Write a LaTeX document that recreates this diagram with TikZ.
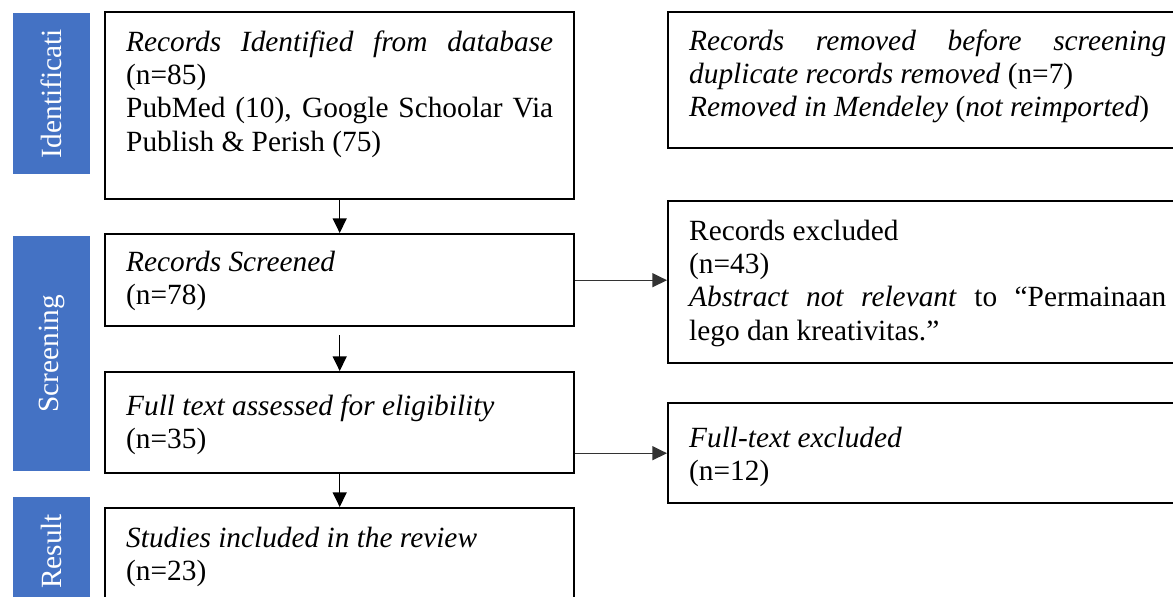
\documentclass[tikz,border=0pt]{standalone}
\usepackage{fontspec}
\setmainfont{Liberation Serif}
\usetikzlibrary{positioning, arrows.meta}
\usepackage{xcolor}
\definecolor{stageblue}{HTML}{4472C4}
\tolerance=9999
\hyphenpenalty=10000
\tikzstyle{arrow} = [line width=1pt, -{Triangle[length=11pt,width=10.5pt]}]
\tikzstyle{sidearrow} = [arrow, draw=black!80]
\tikzstyle{flowbox} = [rectangle, draw=black, line width=1.8pt, text width=320.25pt, align=justify, inner xsep=15.75pt, inner ysep=0pt, text height=29.25pt, font=\fontsize{22}{25}\selectfont]
\tikzstyle{sidebox} = [flowbox, text width=357.75pt]
\tikzstyle{stage} = [rectangle, fill=stageblue, text=white, minimum width=57.75pt, inner sep=0pt, font=\fontsize{22}{25}\selectfont]

\begin{document}
\begin{tikzpicture}
      \useasboundingbox (0,0) rectangle (879.75pt,-447pt);
      \clip (0,0) rectangle (879.75pt,-447pt);

      % main column
      \node (identified) [flowbox, text depth=111pt, anchor=north west] at (78pt,-8.25pt) {\textit{Records Identified from database}\linebreak (n=85)\\ PubMed (10), Google Schoolar Via\linebreak Publish \& Perish (75)};
      \node (screened) [flowbox, text height=27.75pt, text depth=41.25pt, below=24.45pt of identified] {\textit{Records Screened}\\ (n=78)};
      \node (fulltext) [flowbox, text height=32.25pt, text depth=43.5pt, below=32.7pt of screened] {\textit{Full text assessed for eligibility}\\ (n=35)};
      \node (included) [flowbox, text depth=48pt, below=24.45pt of fulltext] {\textit{Studies included in the review}\\ (n=23)};

      % side column
      \node (removed) [sidebox, text height=28.5pt, text depth=73.5pt, right=68.7pt of identified.north east, anchor=north west] {\textit{Records removed before screening}\linebreak \textit{duplicate records removed} (n=7)\\ \textit{Removed in Mendeley} (\textit{not reimported})};
      \node (excluded) [sidebox, text depth=92.25pt, below=37.95pt of removed] {Records excluded\\ (n=43)\\ \textit{Abstract not relevant} to “Permainaan\linebreak lego dan kreativitas.”};
      \node (ftexcluded) [sidebox, text height=33pt, text depth=42pt, below=28.2pt of excluded] {\textit{Full-text excluded}\\ (n=12)};

      % stage labels
      \node (stage1) [stage, minimum height=120.75pt, left=10.2pt of identified.north west, anchor=north east, yshift=-1.5pt] {\rotatebox{90}{Identificati}};
      \node (stage2) [stage, minimum height=176.25pt, left=10.2pt of screened.north west, anchor=north east, yshift=-2.4pt] {\rotatebox{90}{Screening}};
      \node (stage3) [stage, minimum height=81.75pt, below=18.75pt of stage2] {\rotatebox{90}{Result}};

      \draw [arrow] (identified) -- (screened);
      \draw [arrow, shorten <=6pt] (screened) -- (fulltext);
      \draw [arrow] (fulltext) -- (included);
      \draw [sidearrow] (screened.east) -- (screened.east -| excluded.west);
      \draw [sidearrow] (fulltext.east |- ftexcluded.west) -- (ftexcluded.west);
    \end{tikzpicture}
\end{document}
